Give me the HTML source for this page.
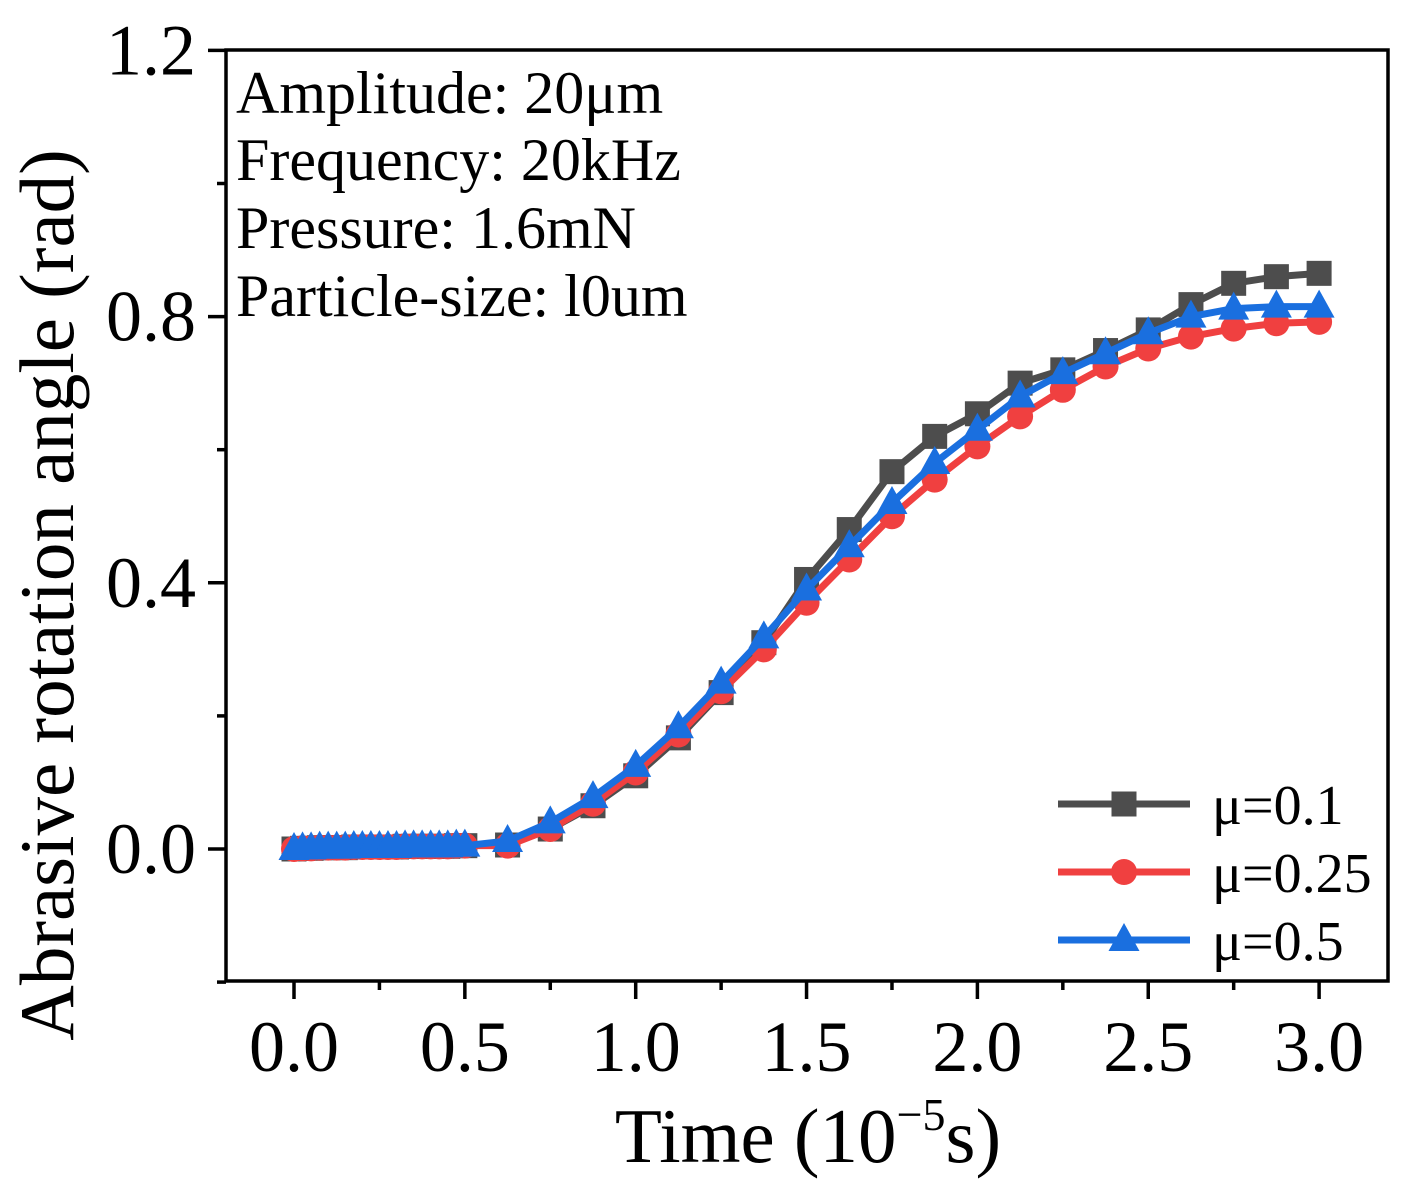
<!DOCTYPE html>
<html><head><meta charset="utf-8"><style>
html,body{margin:0;padding:0;background:#fff}
svg text{font-family:"Liberation Serif",serif;fill:#000}
</style></head><body>
<svg id="chart" width="1413" height="1196" xmlns="http://www.w3.org/2000/svg">
<g id="marks"></g>
<g id="axes"></g>
<g font-size="60">
<text x="236" y="113">Amplitude: 20μm</text>
<text x="236" y="180">Frequency: 20kHz</text>
<text x="236" y="248">Pressure: 1.6mN</text>
<text x="236" y="316">Particle-size: l0um</text>
</g>
<text x="808" y="1162" font-size="77" text-anchor="middle">Time (10<tspan font-size="46" dy="-32">−5</tspan><tspan dy="32">s)</tspan></text>
<text transform="translate(73,595) rotate(-90)" font-size="77" text-anchor="middle">Abrasive rotation angle (rad)</text>
<g id="legend"></g>
</svg>
<script>
const xs = [0,0.025,0.05,0.075,0.1,0.125,0.15,0.175,0.2,0.225,0.25,0.275,0.3,0.325,0.35,0.375,0.4,0.425,0.45,0.475,0.5,
 0.625,0.75,0.875,1.0,1.125,1.25,1.375,1.5,1.625,1.75,1.875,2.0,2.125,2.25,2.375,2.5,2.625,2.75,2.875,3.0];
const flat = [0,0.001,0.001,0.002,0.002,0.002,0.002,0.003,0.003,0.003,0.003,0.003,0.003,0.004,0.004,0.004,0.004,0.004,0.004,0.005,0.005];
const mu01 = flat.concat([0.006,0.03,0.065,0.11,0.167,0.235,0.31,0.405,0.48,0.567,0.62,0.654,0.70,0.72,0.749,0.78,0.818,0.85,0.86,0.865]);
const mu025 = flat.concat([0.005,0.03,0.068,0.115,0.172,0.237,0.30,0.37,0.435,0.50,0.555,0.605,0.65,0.69,0.725,0.752,0.77,0.782,0.79,0.792]);
const mu05 = flat.concat([0.012,0.04,0.078,0.125,0.183,0.25,0.318,0.39,0.455,0.52,0.58,0.63,0.68,0.715,0.745,0.775,0.80,0.812,0.815,0.815]);
const xTicks = ["0.0","0.5","1.0","1.5","2.0","2.5","3.0"];
const yTicks = ["0.0","0.4","0.8","1.2"];
const seriesNames = ["μ=0.1","μ=0.25","μ=0.5"];

const NS="http://www.w3.org/2000/svg";
const L=226,R=1388,T=50,B=981;
const X=v=>294+(v)*341.7;
const Y=v=>849-v*665.5;
function mk(tag,attrs,parent){const e=document.createElementNS(NS,tag);for(const k in attrs)e.setAttribute(k,attrs[k]);parent.appendChild(e);return e;}
const marks=document.getElementById('marks'),axes=document.getElementById('axes'),legend=document.getElementById('legend');
const series=[{d:mu01,c:"#4d4d4d",m:"sq",n:"series-mu-0-1"},{d:mu025,c:"#f04040",m:"ci",n:"series-mu-0-25"},{d:mu05,c:"#1a6fdf",m:"tr",n:"series-mu-0-5"}];
function marker(type,x,y,c,g){
  if(type==="sq") return mk('rect',{x:x-12.5,y:y-12.5,width:25,height:25,fill:c},g);
  if(type==="ci") return mk('circle',{cx:x,cy:y,r:13,fill:c},g);
  return mk('polygon',{points:`${x},${y-17} ${x+15.5},${y+11} ${x-15.5},${y+11}`,fill:c},g);
}
series.forEach((s,i)=>{
  const g=mk('g',{},marks);
  
  
  const pl=mk('polyline',{points:s.d.map((v,j)=>X(xs[j])+','+Y(v)).join(' '),fill:'none',stroke:s.c,'stroke-width':7,'stroke-linejoin':'round'},g);
  
  
  s.d.forEach((v,j)=>{const m=marker(s.m,X(xs[j]),Y(v),s.c,g);
    
    });
  const ly=804+i*68;
  const lg=mk('g',{},legend);
  
  
  mk('line',{x1:1058,x2:1190,y1:ly,y2:ly,stroke:s.c,'stroke-width':7},lg);
  marker(s.m,1124,ly,s.c,lg);
  const t=mk('text',{x:1212,y:ly+20,'font-size':56},lg);t.textContent=seriesNames[i];
});
const fr=mk('rect',{x:L,y:T,width:R-L,height:B-T,fill:'none',stroke:'#000','stroke-width':3.5},axes);


xTicks.forEach((t,i)=>{const v=+t;
  mk('line',{x1:X(v),x2:X(v),y1:B,y2:B+18,stroke:'#000','stroke-width':3.5},axes);
  if(i<xTicks.length-1) mk('line',{x1:X(v+0.25),x2:X(v+0.25),y1:B,y2:B+9,stroke:'#000','stroke-width':3.5},axes);
  const tx=mk('text',{x:X(v),y:1071,'font-size':72,'text-anchor':'middle'},axes);tx.textContent=t;
  
  
});
yTicks.forEach((t,i)=>{const v=+t;
  mk('line',{x1:L-18,x2:L,y1:Y(v),y2:Y(v),stroke:'#000','stroke-width':3.5},axes);
  mk('line',{x1:L-9,x2:L,y1:Y(v-0.2),y2:Y(v-0.2),stroke:'#000','stroke-width':3.5},axes);
  const tx=mk('text',{x:196,y:Y(v)+24,'font-size':72,'text-anchor':'end'},axes);tx.textContent=t;
  
  
});
</script>
</body></html>
